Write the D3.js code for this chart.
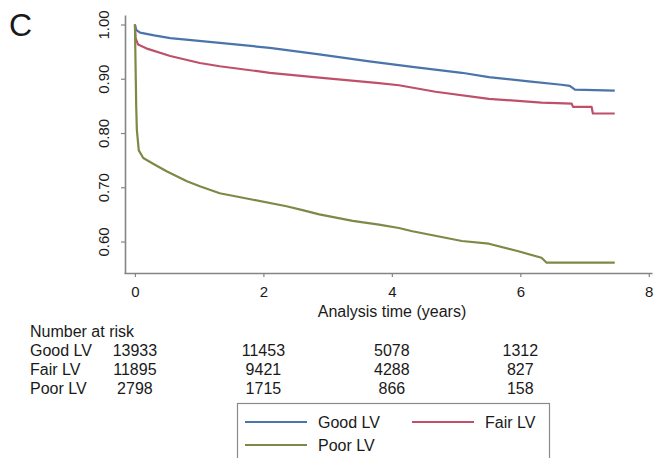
<!DOCTYPE html>
<html>
<head>
<meta charset="utf-8">
<script src="https://cdn.jsdelivr.net/npm/d3@7"></script>
<style>
  body { margin: 0; background: #fff; }
  svg text { font-family: "Liberation Sans", Arial, Helvetica, sans-serif; fill: #1a1a1a; }
</style>
</head>
<body>
<div class="chart"></div>
<script>
// Kaplan-Meier estimates: [years, survival]
const goodLV = [[0,1.0],[0.02,0.99],[0.08,0.985],[0.3,0.98],[0.55,0.975],[1.32,0.966],[2.10,0.957],[2.87,0.945],[3.65,0.932],[4.32,0.922],[5.09,0.911],[5.51,0.903],[6.13,0.895],[6.64,0.889],[6.77,0.887],[6.85,0.880],[7.47,0.878]];
const fairLV = [[0,1.0],[0.01,0.975],[0.05,0.963],[0.2,0.955],[0.55,0.942],[1.01,0.929],[1.32,0.923],[2.10,0.911],[2.87,0.902],[3.8,0.892],[4.11,0.888],[4.68,0.876],[5.51,0.863],[6.33,0.856],[6.80,0.854],[6.82,0.848],[7.11,0.848],[7.13,0.836],[7.47,0.836]];
const poorLV = [[0,1.0],[0.02,0.85],[0.03,0.806],[0.06,0.768],[0.13,0.754],[0.29,0.743],[0.50,0.729],[0.81,0.711],[1.01,0.702],[1.32,0.689],[1.84,0.677],[2.36,0.665],[2.61,0.658],[2.87,0.650],[3.39,0.638],[3.80,0.631],[4.11,0.625],[4.32,0.619],[5.09,0.601],[5.51,0.596],[5.97,0.582],[6.33,0.570],[6.41,0.561],[7.47,0.561]];

const groups = ['Good LV', 'Fair LV', 'Poor LV'];
const colors = ['#4a74aa', '#bf5069', '#7f8846'];
const xTicks = [0, 2, 4, 6, 8];
const yTicks = [0.6, 0.7, 0.8, 0.9, 1.0];
const riskTimes = [0, 2, 4, 6];
const riskGood = [13933, 11453, 5078, 1312];
const riskFair = [11895, 9421, 4288, 827];
const riskPoor = [2798, 1715, 866, 158];

const width = 660, height = 458;

const svg = d3.select('.chart')
  .append('svg')
    .attr('width', width)
    .attr('height', height);

svg.append('rect').attr('width', width).attr('height', height).attr('fill', '#fff');

const x = d3.scaleLinear().domain([-0.17, 8.05]).range([124, 652]);
const y = d3.scaleLinear().domain([0.542, 1.0175]).range([273, 15]);

// panel letter
svg.append('text')
  .attr('x', 9).attr('y', 36)
  .style('font-size', '32px')
  .text('C');

// axes
const xAxis = svg.append('g')
  .attr('transform', 'translate(0,273)')
  .call(d3.axisBottom(x).tickValues(xTicks).tickSize(4).tickSizeOuter(0).tickPadding(9.5).tickFormat(d3.format('d')));

const yAxis = svg.append('g')
  .attr('transform', 'translate(125,0)')
  .call(d3.axisLeft(y).tickValues(yTicks).tickSize(4).tickSizeOuter(0).tickFormat(d3.format('.2f')));

[xAxis, yAxis].forEach(a => {
  a.select('.domain').attr('stroke', '#858585').attr('stroke-width', 1.6);
  a.selectAll('.tick line').attr('stroke', '#858585').attr('stroke-width', 1.2);
  a.selectAll('.tick text').style('font-size', '15px').attr('fill', '#1a1a1a');
});

yAxis.selectAll('.tick text')
  .attr('x', 0).attr('y', 0).attr('dy', '0.35em')
  .attr('text-anchor', 'middle')
  .attr('transform', 'translate(-21,0) rotate(-90)');

svg.append('text')
  .attr('x', 392).attr('y', 317)
  .attr('text-anchor', 'middle')
  .style('font-size', '16px')
  .text('Analysis time (years)');

// survival curves
const line = d3.line()
  .x(d => x(d[0]))
  .y(d => y(d[1]));

[goodLV, fairLV, poorLV].forEach((series, i) => {
  svg.append('path')
    .datum(series)
    .attr('fill', 'none')
    .attr('stroke', colors[i])
    .attr('stroke-width', 2.2)
    .attr('stroke-linejoin', 'round')
    .attr('d', line);
});

// number at risk table
svg.append('text')
  .attr('x', 30).attr('y', 337)
  .style('font-size', '16px')
  .text('Number at risk');

[riskGood, riskFair, riskPoor].forEach((row, i) => {
  const ry = 356 + i * 19;
  svg.append('text')
    .attr('x', 30).attr('y', ry)
    .style('font-size', '16px')
    .text(groups[i]);
  svg.selectAll(null)
    .data(row)
    .enter().append('text')
      .attr('x', (d, j) => x(riskTimes[j]))
      .attr('y', ry)
      .attr('text-anchor', 'middle')
      .style('font-size', '16px')
      .text(d => d);
});

// legend
const legend = svg.append('g');
legend.append('rect')
  .attr('x', 237.5).attr('y', 403.5)
  .attr('width', 312).attr('height', 70)
  .attr('fill', '#fff')
  .attr('stroke', '#8a8a8a')
  .attr('stroke-width', 1.2);

const legendPos = [[245, 422], [412, 422], [245, 445]];
groups.forEach((g, i) => {
  const [lx, ly] = legendPos[i];
  legend.append('line')
    .attr('x1', lx).attr('x2', lx + 62)
    .attr('y1', ly).attr('y2', ly)
    .attr('stroke', colors[i])
    .attr('stroke-width', 2);
  legend.append('text')
    .attr('x', lx + 73).attr('y', ly)
    .attr('dy', '0.35em')
    .style('font-size', '16px')
    .text(g);
});
</script>
</body>
</html>
